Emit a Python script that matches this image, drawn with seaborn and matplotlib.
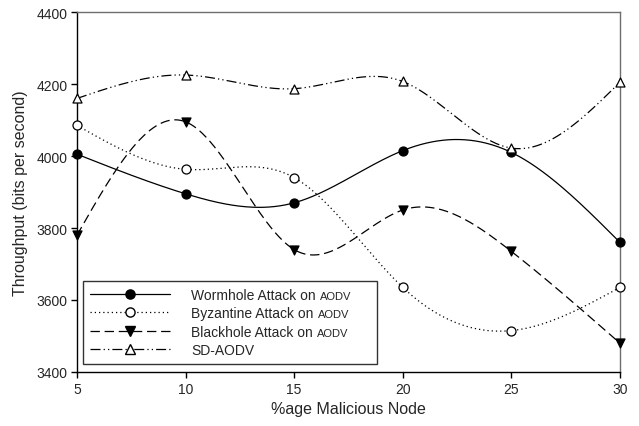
import numpy as np
import pandas as pd
import matplotlib
matplotlib.use("Agg")
import matplotlib.pyplot as plt
from matplotlib.lines import Line2D
import seaborn as sns

# Throughput vs. percentage of malicious nodes
malicious_pct = [5, 10, 15, 20, 25, 30]
wormhole = [4005, 3895, 3870, 4015, 4010, 3760]
byzantine = [4085, 3963, 3940, 3635, 3515, 3635]
blackhole = [3780, 4095, 3740, 3850, 3735, 3480]
sd_aodv = [4160, 4225, 4187, 4207, 4022, 4205]

series_names = ["Wormhole Attack on", "Byzantine Attack on",
                "Blackhole Attack on", "SD-AODV"]
series_values = [wormhole, byzantine, blackhole, sd_aodv]
y_ticks = [3400, 3600, 3800, 4000, 4200, 4400]
x_ticks = [5, 10, 15, 20, 25, 30]


def natural_spline(x, y, xs):
    """Natural cubic spline through (x, y), evaluated at xs."""
    x = np.asarray(x, float)
    y = np.asarray(y, float)
    n = len(x)
    h = np.diff(x)
    A = np.zeros((n, n))
    b = np.zeros(n)
    A[0, 0] = A[-1, -1] = 1.0
    for i in range(1, n - 1):
        A[i, i - 1] = h[i - 1]
        A[i, i] = 2 * (h[i - 1] + h[i])
        A[i, i + 1] = h[i]
        b[i] = 6 * ((y[i + 1] - y[i]) / h[i] - (y[i] - y[i - 1]) / h[i - 1])
    M = np.linalg.solve(A, b)
    idx = np.clip(np.searchsorted(x, xs) - 1, 0, n - 2)
    x0, x1 = x[idx], x[idx + 1]
    hh = x1 - x0
    t1 = x1 - xs
    t0 = xs - x0
    return (M[idx] * t1 ** 3 / (6 * hh) + M[idx + 1] * t0 ** 3 / (6 * hh)
            + (y[idx] / hh - M[idx] * hh / 6) * t1
            + (y[idx + 1] / hh - M[idx + 1] * hh / 6) * t0)


sns.set_theme(style="white")
plt.rcParams["font.family"] = ["Liberation Sans", "DejaVu Sans"]

fig = plt.figure(figsize=(6.39, 4.27), dpi=100)
ax = fig.add_axes([0.1205, 0.1265, 0.8497, 0.843])

xs = np.linspace(min(malicious_pct), max(malicious_pct), 400)
curve_rows = []
point_rows = []
for name, vals in zip(series_names, series_values):
    for xv, yv in zip(xs, natural_spline(malicious_pct, vals, xs)):
        curve_rows.append({"series": name, "x": xv, "y": yv})
    for xv, yv in zip(malicious_pct, vals):
        point_rows.append({"series": name, "x": xv, "y": yv})
curves = pd.DataFrame(curve_rows)
points = pd.DataFrame(point_rows)

lw = 0.9
dash_map = {
    series_names[0]: "",
    series_names[1]: (1, 2.4),
    series_names[2]: (7.5, 3.8),
    series_names[3]: (8, 2.5, 1, 2.5, 1, 2.5),
}
palette = {n: "black" for n in series_names}
sns.lineplot(data=curves, x="x", y="y", hue="series", style="series",
             palette=palette, dashes=dash_map, estimator=None, sort=False,
             linewidth=lw, legend=False, ax=ax)

marker_map = {series_names[0]: "o", series_names[1]: "o",
              series_names[2]: "v", series_names[3]: "^"}
face_map = {series_names[0]: "black", series_names[1]: "white",
            series_names[2]: "black", series_names[3]: "white"}
for name in series_names:
    sub = points[points["series"] == name]
    sns.scatterplot(data=sub, x="x", y="y", marker=marker_map[name],
                    color=face_map[name], edgecolor="black", linewidth=0.9,
                    s=42, zorder=5, clip_on=False, legend=False, ax=ax)

ax.set_xlim(5, 30)
ax.set_ylim(3400, 4400)
ax.set_xticks(x_ticks)
ax.set_yticks(y_ticks)
ax.set_xticklabels([str(v) for v in x_ticks], fontsize=10)
ax.set_yticklabels([str(v) for v in y_ticks], fontsize=10)
ax.tick_params(axis="both", direction="out", length=4, width=1,
               color="black", pad=3, bottom=True, left=True)
ax.set_xlabel("%age Malicious Node", fontsize=11.5, labelpad=4)
ax.set_ylabel("Throughput (bits per second)", fontsize=11.5, labelpad=6)
for side in ("left", "bottom"):
    ax.spines[side].set_color("black")
    ax.spines[side].set_linewidth(1)
for side in ("top", "right"):
    ax.spines[side].set_color("#6e6e6e")
    ax.spines[side].set_linewidth(1)
ax.grid(False)

handles = []
for name in series_names:
    ls = "-" if dash_map[name] == "" else (0, dash_map[name])
    handles.append(Line2D([0], [0], color="black", lw=lw, linestyle=ls,
                          marker=marker_map[name],
                          markerfacecolor=face_map[name],
                          markeredgecolor="black", markersize=6.6))
leg = ax.legend(handles, series_names, loc="lower left",
                bbox_to_anchor=(0.011, 0.022, 0.541, 0.261), mode="expand",
                fontsize=10, handlelength=5.8, handletextpad=1.5,
                labelspacing=0.32, borderaxespad=0, borderpad=0.5,
                frameon=True, fancybox=False, numpoints=1)
leg.get_frame().set_edgecolor("black")
leg.get_frame().set_linewidth(1)

# Smaller "AODV" suffix after the attack labels
fig.canvas.draw()
renderer = fig.canvas.get_renderer()
inv = fig.transFigure.inverted()
for txt in leg.get_texts()[:3]:
    bb = txt.get_window_extent(renderer)
    x_fig, y_fig = inv.transform((bb.x1 + 4, bb.y0 + 3))
    fig.text(x_fig, y_fig, "AODV", fontsize=8, ha="left", va="baseline")

fig.savefig("out.png", dpi=100)
